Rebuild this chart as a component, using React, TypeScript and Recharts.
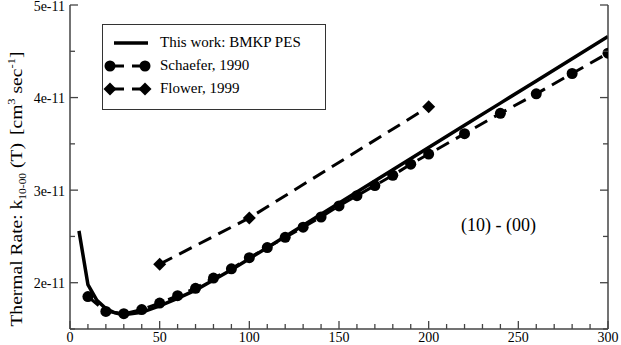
import React from 'react';
import {
  ComposedChart,
  Line,
  XAxis,
  YAxis,
  Legend,
  ReferenceDot,
} from 'recharts';

// Temperatures (K) and thermal rates (cm^3 sec^-1)
const thisWorkT = [5, 10, 15, 20, 25, 30, 40, 50, 60, 70, 80, 90, 100, 120, 140, 160, 180, 200, 220, 240, 260, 280, 300];
const thisWorkK = [2.56, 1.98, 1.81, 1.72, 1.675, 1.655, 1.68, 1.75, 1.83, 1.92, 2.03, 2.14, 2.26, 2.5, 2.74, 2.98, 3.22, 3.46, 3.7, 3.94, 4.18, 4.42, 4.66];

const schaeferT = [10, 20, 30, 40, 50, 60, 70, 80, 90, 100, 110, 120, 130, 140, 150, 160, 170, 180, 190, 200, 220, 240, 260, 280, 300];
const schaeferK = [1.85, 1.69, 1.665, 1.71, 1.78, 1.86, 1.94, 2.05, 2.15, 2.27, 2.38, 2.49, 2.6, 2.71, 2.83, 2.94, 3.05, 3.16, 3.28, 3.39, 3.61, 3.83, 4.04, 4.26, 4.48];

const flowerT = [50, 100, 200];
const flowerK = [2.2, 2.7, 3.9];

const xTicks = [0, 10, 20, 30, 40, 50, 60, 70, 80, 90, 100, 110, 120, 130, 140, 150, 160, 170, 180, 190, 200, 210, 220, 230, 240, 250, 260, 270, 280, 290, 300];
const yTicks = [1.5e-11, 2e-11, 2.5e-11, 3e-11, 3.5e-11, 4e-11, 4.5e-11, 5e-11];

const seriesNames = ['This work: BMKP PES', 'Schaefer, 1990', 'Flower, 1999'];
const panelLabel = '(10) - (00)';
const panelLabelAt = { x: 239, y: 2.63e-11 };

const toPoints = (ts: number[], ks: number[]) => ts.map((t, i) => ({ x: t, y: ks[i] * 1e-11 }));

const thisWork = toPoints(thisWorkT, thisWorkK);
const schaefer = toPoints(schaeferT, schaeferK);
const flower = toPoints(flowerT, flowerK);

const FONT = '"Liberation Serif", "Times New Roman", serif';
const AXIS = '#444';
const DASH = '14 8';

const yLabelOf = (v: number) => {
  const n = Math.round(v * 1e12) / 10;
  return Number.isInteger(n) ? `${n}e-11` : '';
};

const BottomTick = (props: any) => {
  const { x, y, payload } = props;
  const major = payload.value % 50 === 0;
  return (
    <g>
      <line x1={x} x2={x} y1={y} y2={y - (major ? 8 : 5)} stroke={AXIS} strokeWidth={1.3} />
      {major && (
        <text x={x} y={y + 13} textAnchor="middle" fontSize={14} fontFamily={FONT} fill="#000">
          {payload.value}
        </text>
      )}
    </g>
  );
};

const TopTick = (props: any) => {
  const { x, y, payload } = props;
  const major = payload.value % 50 === 0;
  return <line x1={x} x2={x} y1={y} y2={y + (major ? 8 : 5)} stroke={AXIS} strokeWidth={1.3} />;
};

const LeftTick = (props: any) => {
  const { x, y, payload } = props;
  const label = yLabelOf(payload.value);
  return (
    <g>
      <line x1={x} x2={x + (label ? 8 : 5)} y1={y} y2={y} stroke={AXIS} strokeWidth={1.3} />
      {label && (
        <text x={x - 5} y={y + 5.5} textAnchor="end" fontSize={14} fontFamily={FONT} fill="#000">
          {label}
        </text>
      )}
    </g>
  );
};

const RightTick = (props: any) => {
  const { x, y, payload } = props;
  const major = yLabelOf(payload.value) !== '';
  return <line x1={x} x2={x - (major ? 8 : 5)} y1={y} y2={y} stroke={AXIS} strokeWidth={1.3} />;
};

// rotated axis title, stretched a little along its length like the original
const YTitle = (props: any) => {
  const { viewBox } = props;
  const cx = viewBox.x + 22;
  const cy = viewBox.y + viewBox.height * 0.568;
  return (
    <text
      x={0}
      y={0}
      transform={`translate(${cx}, ${cy}) rotate(-90) scale(1.15, 1)`}
      textAnchor="middle"
      fontSize={17}
      fontFamily={FONT}
      fill="#000"
    >
      Thermal Rate: k
      <tspan dy={4} fontSize={10}>10-00</tspan>
      <tspan dy={-4}> (T)</tspan>
      <tspan dx={7}>[cm</tspan>
      <tspan dy={-7} fontSize={11}>3</tspan>
      <tspan dy={7}> sec</tspan>
      <tspan dy={-7} fontSize={11}>-1</tspan>
      <tspan dy={7}>]</tspan>
    </text>
  );
};

const Circle = (props: any) => {
  const { cx, cy } = props;
  if (cx == null || cy == null) return null;
  return <circle cx={cx} cy={cy} r={5.5} fill="#000" />;
};

const Diamond = (props: any) => {
  const { cx, cy } = props;
  if (cx == null || cy == null) return null;
  const s = 6.5;
  return <polygon points={`${cx},${cy - s} ${cx + s},${cy} ${cx},${cy + s} ${cx - s},${cy}`} fill="#000" />;
};

const LegendBox = () => (
  <div style={{ border: '1px solid #333', width: 224, height: 86, background: '#fff', boxSizing: 'border-box' }}>
    <svg width={222} height={84} style={{ display: 'block' }}>
      <line x1={11} x2={45} y1={18} y2={18} stroke="#000" strokeWidth={3.5} />
      <text x={57} y={22} fontSize={15} fontFamily={FONT}>{seriesNames[0]}</text>

      <line x1={7} x2={42} y1={41} y2={41} stroke="#000" strokeWidth={3} strokeDasharray={DASH} />
      <Circle cx={7} cy={41} />
      <Circle cx={42} cy={41} />
      <text x={57} y={45} fontSize={15} fontFamily={FONT}>{seriesNames[1]}</text>

      <line x1={7} x2={42} y1={64} y2={64} stroke="#000" strokeWidth={3} strokeDasharray={DASH} />
      <Diamond cx={7} cy={64} />
      <Diamond cx={42} cy={64} />
      <text x={57} y={68} fontSize={15} fontFamily={FONT}>{seriesNames[2]}</text>
    </svg>
  </div>
);

export default function App() {
  return (
    <div style={{ position: 'absolute', left: 0, top: 0, background: '#fff' }}>
      <ComposedChart width={621} height={345} margin={{ top: 5, right: 0, bottom: 0, left: 0 }}>
        <XAxis
          xAxisId="bottom"
          dataKey="x"
          type="number"
          domain={[0, 300]}
          ticks={xTicks}
          interval={0}
          allowDataOverflow
          height={16}
          tickSize={0}
          tickMargin={0}
          tickLine={false}
          tick={<BottomTick />}
          axisLine={{ stroke: AXIS, strokeWidth: 1.5 }}
        />
        <XAxis
          xAxisId="top"
          orientation="top"
          dataKey="x"
          type="number"
          domain={[0, 300]}
          ticks={xTicks}
          interval={0}
          allowDataOverflow
          height={0}
          tickSize={0}
          tickMargin={0}
          tickLine={false}
          tick={<TopTick />}
          axisLine={{ stroke: AXIS, strokeWidth: 1.5 }}
        />
        <YAxis
          yAxisId="left"
          type="number"
          domain={[1.5e-11, 5e-11]}
          ticks={yTicks}
          interval={0}
          allowDataOverflow
          width={70}
          tickSize={0}
          tickMargin={0}
          tickLine={false}
          tick={<LeftTick />}
          axisLine={{ stroke: AXIS, strokeWidth: 1.5 }}
          label={<YTitle />}
        />
        <YAxis
          yAxisId="right"
          orientation="right"
          type="number"
          domain={[1.5e-11, 5e-11]}
          ticks={yTicks}
          interval={0}
          allowDataOverflow
          width={13}
          tickSize={0}
          tickMargin={0}
          tickLine={false}
          tick={<RightTick />}
          axisLine={{ stroke: AXIS, strokeWidth: 1.5 }}
        />

        <Legend
          layout="vertical"
          align="center"
          verticalAlign="middle"
          wrapperStyle={{ position: 'absolute', top: 24, left: 102, width: 'auto', height: 'auto' }}
          content={<LegendBox />}
        />

        <Line
          xAxisId="bottom"
          yAxisId="left"
          data={flower}
          dataKey="y"
          type="linear"
          stroke="#000"
          strokeWidth={3}
          strokeDasharray={DASH}
          dot={<Diamond />}
          activeDot={false}
          isAnimationActive={false}
          name={seriesNames[2]}
        />
        <Line
          xAxisId="bottom"
          yAxisId="left"
          data={schaefer}
          dataKey="y"
          type="linear"
          stroke="#000"
          strokeWidth={3}
          strokeDasharray={DASH}
          dot={<Circle />}
          activeDot={false}
          isAnimationActive={false}
          name={seriesNames[1]}
        />
        <Line
          xAxisId="bottom"
          yAxisId="left"
          data={thisWork}
          dataKey="y"
          type="linear"
          stroke="#000"
          strokeWidth={3.5}
          dot={false}
          activeDot={false}
          isAnimationActive={false}
          name={seriesNames[0]}
        />

        <ReferenceDot
          xAxisId="bottom"
          yAxisId="left"
          x={panelLabelAt.x}
          y={panelLabelAt.y}
          r={0}
          fill="none"
          stroke="none"
          ifOverflow="visible"
          label={{ value: panelLabel, position: 'center', fontSize: 18, fontFamily: FONT, fill: '#000' }}
        />
      </ComposedChart>
    </div>
  );
}
